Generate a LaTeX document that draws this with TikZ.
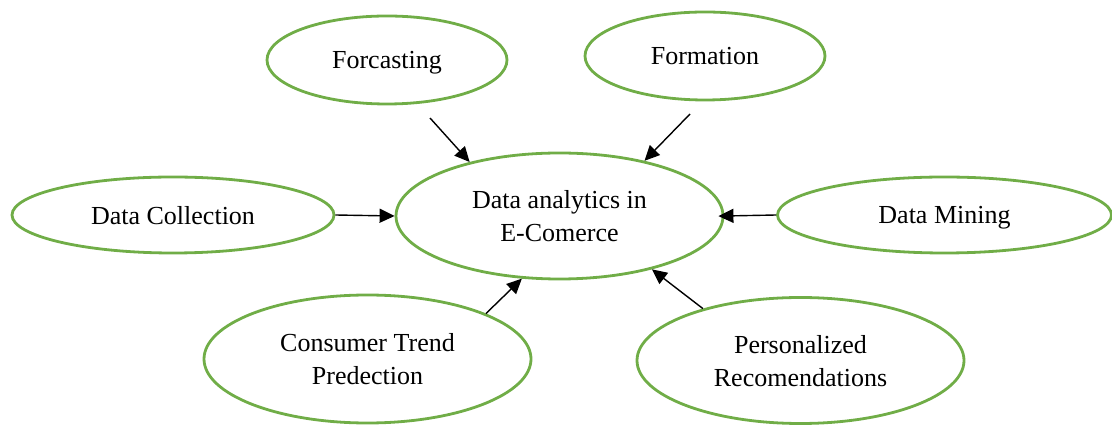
\documentclass[tikz,border=0pt]{standalone}
\usepackage{fontspec}
\setmainfont{Liberation Serif}
\usetikzlibrary{arrows.meta,shapes.geometric,positioning}
\definecolor{LeafGreen}{RGB}{112,173,71}
\tikzset{
  %% 椭圆节点
  ebig/.style={ellipse,draw=LeafGreen,line width=1.4pt,inner sep=0pt,
               minimum width=163.5pt,minimum height=63pt,text depth=0pt,
               font=\fontsize{13}{16.5}\selectfont,align=center},
  esml/.style={ellipse,draw=LeafGreen,line width=1.4pt,inner sep=0pt,
               minimum width=120pt,minimum height=44pt,text depth=0pt,
               font=\fontsize{13}{16.5}\selectfont,align=center},
  ewide/.style={ellipse,draw=LeafGreen,line width=1.4pt,inner sep=0pt,
                minimum width=161pt,minimum height=38pt,text depth=0pt,
                font=\fontsize{13}{16.5}\selectfont,align=center},
  %% 箭头
  earr/.style={-{Triangle[length=7.5pt,width=7pt]},line width=0.7pt,black},
}
\begin{document}
\begin{tikzpicture}[x=0.5pt,y=-0.5pt]
    \useasboundingbox (0,0) rectangle (1112,426);

    %% ── 中心 ─────────────────────────────────────
    \node[ebig] (hub) at (559.5,216) {Data analytics in\\E-Comerce};

    %% ── 上方两个 ─────────────────────────────────
    \node[esml] (fc) at (387,60) {Forcasting};
    \node[esml] (fm) at (705,56) {Formation};

    %% ── 左右两个 ─────────────────────────────────
    \node[ewide] (dc) at (173,215) {Data Collection};
    \node[ewide,minimum width=167pt] (dm) at (944.5,215) {Data Mining};

    %% ── 下方两个 ─────────────────────────────────
    \node[ebig,minimum height=64pt] (ct) at (367.5,359) {Consumer Trend\\Predection};
    \node[ebig] (pr) at (800.5,360.5) {Personalized\\Recomendations};

    %% 箭头起点（上方两个为悬空点）
    \coordinate (fcs) at (430,118);
    \coordinate (fms) at (690,114);

    \draw[earr] (fcs) -- (hub.149.7);
    \draw[earr] (fms) -- (hub.33.7);
    \draw[earr] (dc.east) -- (hub.west);
    \draw[earr,shorten >=-3pt] (dm.west) -- (hub.east);
    \draw[earr] (ct.21) -- (hub.239);
    \draw[earr] (pr.152) -- (hub.-30.3);
  \end{tikzpicture}
\end{document}
